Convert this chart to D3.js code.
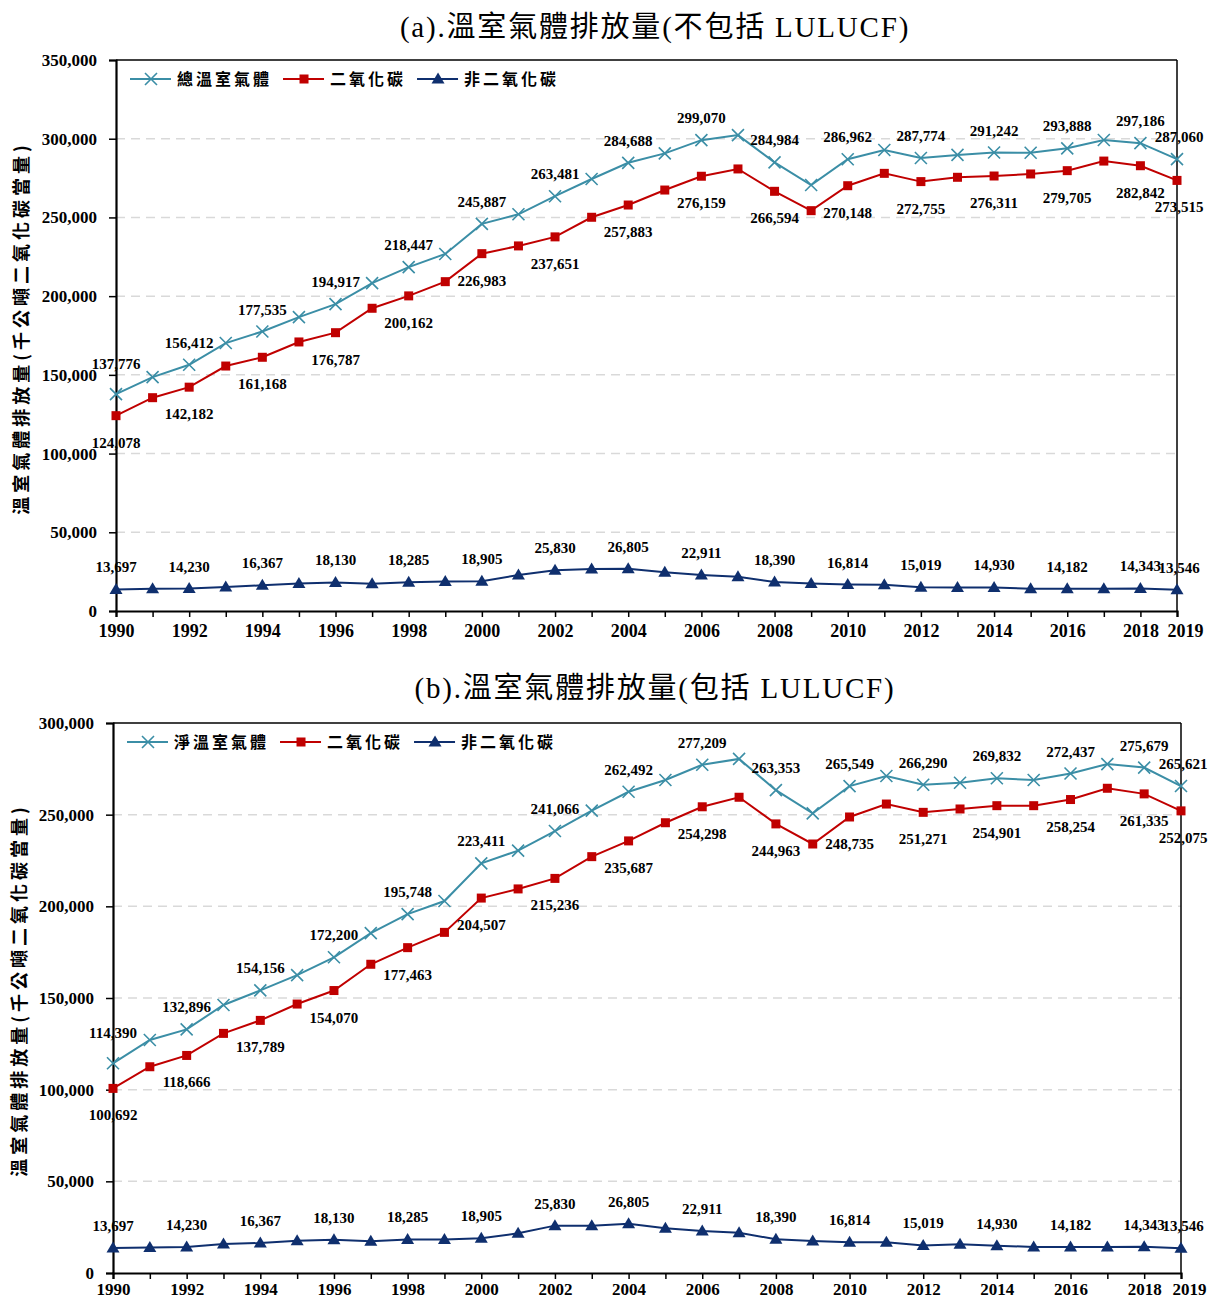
<!DOCTYPE html>
<html>
<head>
<meta charset="utf-8">
<script src="https://cdn.jsdelivr.net/npm/d3@7"></script>
<style>
  html, body { margin: 0; padding: 0; background: #ffffff; }
  svg { display: block; }
</style>
</head>
<body>
<svg id="chart" width="1208" height="1302"></svg>
<script>
// ---------------- DATA ----------------
const years = [1990,1991,1992,1993,1994,1995,1996,1997,1998,1999,2000,2001,2002,2003,2004,2005,2006,2007,2008,2009,2010,2011,2012,2013,2014,2015,2016,2017,2018,2019];
const labelYears = [1990,1992,1994,1996,1998,2000,2002,2004,2006,2008,2010,2012,2014,2016,2018,2019];
const xTickLabels = [1990,1992,1994,1996,1998,2000,2002,2004,2006,2008,2010,2012,2014,2016,2018,2019];

const titleA = "(a).溫室氣體排放量(不包括 LULUCF)";
const titleB = "(b).溫室氣體排放量(包括 LULUCF)";
const yAxisTitle = "溫室氣體排放量(千公噸二氧化碳當量)";

const seriesNamesA = ["總溫室氣體", "二氧化碳", "非二氧化碳"];
const seriesNamesB = ["淨溫室氣體", "二氧化碳", "非二氧化碳"];

const yTicksA = [0, 50000, 100000, 150000, 200000, 250000, 300000, 350000];
const yTicksB = [0, 50000, 100000, 150000, 200000, 250000, 300000];

const totalA = [137776,148600,156412,170200,177535,186700,194917,208300,218447,226800,245887,252000,263481,274400,284688,290700,299070,302300,284984,270600,286962,292800,287774,289700,291242,291100,293888,299200,297186,287060];
const co2A   = [124078,135500,142182,155600,161168,170900,176787,192300,200162,209200,226983,231900,237651,250100,257883,267400,276159,280800,266594,254300,270148,278000,272755,275500,276311,277600,279705,285800,282842,273515];
const nonA   = [13697,14150,14230,15200,16367,17500,18130,17300,18285,18700,18905,22800,25830,26700,26805,24600,22911,21700,18390,17400,16814,16700,15019,15000,14930,14200,14182,14200,14343,13546];

const totalB = [114390,127100,132896,146200,154156,162500,172200,185400,195748,202900,223411,230400,241066,252200,262492,268900,277209,280400,263353,250700,265549,271100,266290,267400,269832,268900,272437,277600,275679,265621];
const co2B   = [100692,112500,118666,130700,137789,146700,154070,168400,177463,185800,204507,209500,215236,227100,235687,245600,254298,259500,244963,234000,248735,255800,251271,253100,254901,254900,258254,264400,261335,252075];
const nonB   = [13697,13900,14230,15800,16367,17600,18130,17300,18285,18300,18905,21650,25830,25830,26805,24380,22911,22000,18390,17450,16814,16800,15019,15650,14930,14200,14182,14200,14343,13546];

// ---------------- STYLE ----------------
const COLORS = { total: "#3B8EA6", co2: "#C00000", non: "#0F2F6E" };
const SERIF = "'Liberation Serif','Times New Roman','Noto Sans CJK TC',serif";
const CJK = "'Noto Sans CJK TC','Liberation Serif',sans-serif";
const fmt = d3.format(",");

const svg = d3.select("#chart");

function marker(g, type, x, y) {
  if (type === "total") {
    const s = 6;
    g.append("path")
      .attr("d", `M${x-s},${y-s}L${x+s},${y+s}M${x-s},${y+s}L${x+s},${y-s}`)
      .attr("stroke", COLORS.total).attr("stroke-width", 1.6).attr("fill", "none");
  } else if (type === "co2") {
    g.append("rect").attr("x", x-4.5).attr("y", y-4.5).attr("width", 9).attr("height", 9)
      .attr("fill", COLORS.co2);
  } else {
    g.append("path")
      .attr("d", `M${x},${y-6.5}L${x+6.5},${y+4.5}L${x-6.5},${y+4.5}Z`)
      .attr("fill", COLORS.non);
  }
}

function drawChart(cfg) {
  const g = svg.append("g");
  const x = d3.scaleLinear().domain([years[0], years[years.length-1]]).range([cfg.left, cfg.right]);
  const y = d3.scaleLinear().domain([0, cfg.yMax]).range([cfg.bottom, cfg.top]);

  // title
  g.append("text")
    .attr("x", cfg.titleX).attr("y", cfg.titleY)
    .attr("text-anchor", "middle")
    .attr("font-family", SERIF).attr("font-size", 29).attr("letter-spacing", 1.8)
    .attr("fill", "#000")
    .text(cfg.title);

  // gridlines
  g.append("g").selectAll("line")
    .data(cfg.yTicks.filter(v => v > 0 && v < cfg.yMax))
    .join("line")
    .attr("x1", cfg.left).attr("x2", cfg.right)
    .attr("y1", d => y(d)).attr("y2", d => y(d))
    .attr("stroke", "#D9D9D9").attr("stroke-width", 1.5).attr("stroke-dasharray", "9,6");

  // frame top & right
  g.append("line").attr("x1", cfg.left).attr("x2", cfg.right).attr("y1", cfg.top).attr("y2", cfg.top)
    .attr("stroke", "#000").attr("stroke-width", 1.5);
  g.append("line").attr("x1", cfg.right).attr("x2", cfg.right).attr("y1", cfg.top).attr("y2", cfg.bottom)
    .attr("stroke", "#000").attr("stroke-width", 1.5);

  // y axis
  const yAxis = d3.axisLeft(y).tickValues(cfg.yTicks).tickFormat(fmt).tickSize(7).tickPadding(12);
  const ya = g.append("g").attr("transform", `translate(${cfg.left},0)`).call(yAxis);
  ya.select(".domain").attr("stroke", "#000").attr("stroke-width", 2.2);
  ya.selectAll(".tick line").attr("stroke", "#000").attr("stroke-width", 1.5);
  ya.selectAll(".tick text").attr("font-family", SERIF).attr("font-weight", "bold")
    .attr("font-size", 17).attr("fill", "#000");

  // x axis
  const xAxis = d3.axisBottom(x).tickValues(years).tickFormat(d => xTickLabels.includes(d) ? String(d) : "")
    .tickSize(6).tickPadding(cfg.xPad);
  const xa = g.append("g").attr("transform", `translate(0,${cfg.bottom})`).call(xAxis);
  xa.select(".domain").attr("stroke", "#000").attr("stroke-width", 2.2);
  xa.selectAll(".tick line").attr("stroke", "#000").attr("stroke-width", 1.5);
  xa.selectAll(".tick text").attr("font-family", SERIF).attr("font-weight", "bold")
    .attr("font-size", cfg.xFont).attr("fill", "#000")
    .attr("dx", d => d === years[years.length-1] ? 8 : 0);

  // y axis title
  g.append("text")
    .attr("transform", `translate(${cfg.yTitleX},${cfg.yTitleY}) rotate(-90)`)
    .attr("text-anchor", "middle")
    .attr("font-family", CJK).attr("font-weight", "bold").attr("font-size", 18)
    .attr("letter-spacing", 4)
    .attr("fill", "#000")
    .text(yAxisTitle);

  const series = [
    { key: "total", values: cfg.total },
    { key: "co2", values: cfg.co2 },
    { key: "non", values: cfg.non }
  ];

  const line = d3.line().x((d, i) => x(years[i])).y(d => y(d));
  series.forEach(s => {
    g.append("path").datum(s.values).attr("d", line)
      .attr("fill", "none").attr("stroke", COLORS[s.key]).attr("stroke-width", 2);
  });
  series.forEach(s => {
    const mg = g.append("g");
    s.values.forEach((v, i) => marker(mg, s.key, x(years[i]), y(v)));
  });

  // data labels
  const lg = g.append("g").attr("font-family", SERIF).attr("font-weight", "bold")
    .attr("font-size", 15).attr("fill", "#000").attr("text-anchor", "middle");
  series.forEach(s => {
    labelYears.forEach(yr => {
      const i = years.indexOf(yr);
      const v = s.values[i];
      let dy;
      if (s.key === "co2") dy = 32;
      else dy = (s.key === "total" && yr === years[0]) ? -25 : -17;
      lg.append("text")
        .attr("x", x(yr) + (yr === years[years.length-1] ? 2 : 0))
        .attr("y", y(v) + dy)
        .text(fmt(v));
    });
  });

  // legend
  const leg = g.append("g");
  const ly = cfg.top + 19;
  let lx = cfg.left + 14;
  series.forEach((s, k) => {
    leg.append("line").attr("x1", lx).attr("x2", lx + 41).attr("y1", ly).attr("y2", ly)
      .attr("stroke", COLORS[s.key]).attr("stroke-width", 2);
    marker(leg, s.key, lx + 21, ly);
    const t = leg.append("text").attr("x", lx + 47).attr("y", ly + 6)
      .attr("font-family", CJK).attr("font-weight", "bold").attr("font-size", 16)
      .attr("letter-spacing", 3).attr("fill", "#000")
      .text(cfg.names[k]);
    lx += 47 + t.node().getComputedTextLength() + 11;
  });
}

drawChart({
  title: titleA, titleX: 655, titleY: 37,
  left: 116, right: 1177, top: 60, bottom: 611, yMax: 350000, yTicks: yTicksA,
  xPad: 7, xFont: 18,
  yTitleX: 28, yTitleY: 328,
  total: totalA, co2: co2A, non: nonA, names: seriesNamesA
});

drawChart({
  title: titleB, titleX: 655, titleY: 698,
  left: 113, right: 1181, top: 723, bottom: 1273, yMax: 300000, yTicks: yTicksB,
  xPad: 4, xFont: 17,
  yTitleX: 26, yTitleY: 990,
  total: totalB, co2: co2B, non: nonB, names: seriesNamesB
});
</script>
</body>
</html>
